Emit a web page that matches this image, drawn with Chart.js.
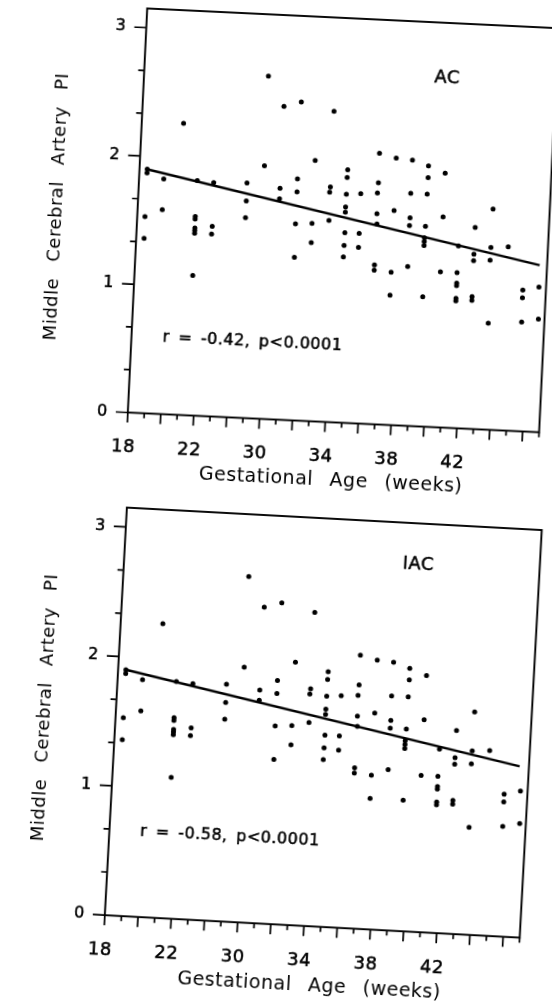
<!DOCTYPE html>
<html>
<head>
  <title>Middle Cerebral Artery PI - Gestational Age</title>
  <script src="https://cdn.jsdelivr.net/npm/chart.js"></script>
  <style>
    html, body {
      margin: 0;
      padding: 0;
      background: #fff;
      overflow: hidden;
    }
    body {
      position: relative;
      width: 552px;
      height: 1006px;
    }
    canvas {
      position: absolute;
    }
    /* the scan is slightly tilted, so each plot is turned round its origin */
    #chartAC {
      left: 31.6px;
      top: -28.5px;
      transform-origin: 95.8px 440.5px;
      transform: rotate(2.75deg);
    }
    #chartIAC {
      left: 18.7px;
      top: 470.8px;
      transform-origin: 85.8px 444.2px;
      transform: rotate(3.1deg);
    }
  </style>
</head>
<body>
  <canvas id="chartAC" width="545" height="512"></canvas>
  <canvas id="chartIAC" width="540" height="517"></canvas>

  <script>
    // x = position on the age axis (one step per tick mark), y = MCA PI
    const gaPos = [
      0.47, 0.47, 0.47, 0.48,
      1.50, 1.50,
      2.54,
      3.54, 3.52, 3.52, 3.53, 3.53, 3.53, 3.54,
      4.54, 4.58, 4.56,
      6.56, 6.57, 6.57,
      7.55, 7.57,
      8.58, 8.58, 8.58,
      9.62, 9.61, 9.62, 9.62, 9.65,
      10.63, 10.62, 10.63,
      11.63, 11.63, 11.60, 11.64,
      12.63, 12.62, 12.62, 12.61, 12.61, 12.64, 12.63, 12.62,
      13.49, 13.51, 13.51,
      14.51, 14.53, 14.50, 14.53, 14.56, 14.53, 14.53,
      15.54, 15.56, 15.56, 15.56,
      16.53, 16.52, 16.55, 16.54, 16.55,
      17.52, 17.53, 17.52, 17.51, 17.48, 17.48, 17.48, 17.55,
      18.55, 18.55, 18.55,
      19.57, 19.56, 19.57, 19.57, 19.57, 19.57,
      20.53, 20.53, 20.53, 20.54, 20.54,
      21.56, 21.54, 21.53, 21.60,
      22.59,
      23.60, 23.60, 23.62,
      24.57, 24.63
    ];
    const mcaPI = [
      1.90, 1.87, 1.53, 1.36,
      1.83, 1.59,
      2.27,
      1.83, 1.55, 1.53, 1.46, 1.44, 1.42, 1.09,
      1.82, 1.48, 1.42,
      1.83, 1.69, 1.56,
      2.67, 1.97,
      2.44, 1.80, 1.72,
      2.48, 1.88, 1.78, 1.53, 1.27,
      2.03, 1.54, 1.39,
      2.42, 1.83, 1.79, 1.57,
      1.97, 1.91, 1.78, 1.68, 1.64, 1.48, 1.38, 1.29,
      1.79, 1.48, 1.37,
      2.11, 1.88, 1.80, 1.64, 1.56, 1.24, 1.20,
      2.08, 1.67, 1.19, 1.01,
      2.07, 1.81, 1.62, 1.56, 1.24,
      2.03, 1.94, 1.81, 1.56, 1.47, 1.44, 1.41, 1.01,
      1.98, 1.64, 1.21,
      1.42, 1.21, 1.13, 1.11, 1.01, 0.99,
      1.57, 1.36, 1.31, 1.03, 1.00,
      1.72, 1.42, 1.32, 0.83,
      1.43,
      1.10, 1.04, 0.85,
      1.13, 0.88
    ];

    // regression lines, start and end
    const fitAC = { x: [0.42, 24.55], y: [1.90, 1.30] };
    const fitIAC = { x: [0.48, 24.44], y: [1.90, 1.32] };

    const xTickLabels = ['18', '', '', '', '22', '', '', '', '30', '', '', '', '34', '', '', '', '38', '', '', '', '42', '', '', '', '', ''];
    const yTickLabels = ['0', '1', '2', '3'];

    const groupNames = ['AC', 'IAC'];
    const rValues = ['-0.42', '-0.58'];
    const pValue = 'p<0.0001';

    const points = gaPos.map((x, i) => ({ x: x, y: mcaPI[i] }));

    const framePlugin = {
      id: 'frame',
      beforeDraw(chart) {
        chart.ctx.letterSpacing = '0.5px';
        chart.ctx.wordSpacing = '10px';
      },
      afterDraw(chart, args, opts) {
        const ctx = chart.ctx;
        const a = chart.chartArea;
        const x = chart.scales.x;
        const y = chart.scales.y;
        ctx.save();
        ctx.strokeStyle = '#000';
        ctx.lineWidth = 1.9;
        ctx.strokeRect(a.left, a.top, a.right - a.left, a.bottom - a.top);

        // tick marks: long on even steps / whole numbers
        ctx.lineWidth = 1.7;
        ctx.beginPath();
        for (let i = 0; i <= 25; i++) {
          const px = x.getPixelForValue(i);
          ctx.moveTo(px, a.bottom);
          ctx.lineTo(px, a.bottom + (i % 2 ? 5 : 10));
        }
        for (let k = 0; k <= 9; k++) {
          const py = y.getPixelForValue(k / 3);
          ctx.moveTo(a.left, py);
          ctx.lineTo(a.left - (k % 3 ? 6 : 12), py);
        }
        ctx.stroke();

        ctx.fillStyle = '#000';
        ctx.lineWidth = 0.5;
        ctx.textBaseline = 'middle';
        ctx.font = '18px "DejaVu Sans"';
        ctx.textAlign = 'center';
        const gx = x.getPixelForValue(opts.groupAt[0]);
        const gy = y.getPixelForValue(opts.groupAt[1]);
        ctx.fillText(opts.group, gx, gy);
        ctx.strokeText(opts.group, gx, gy);
        ctx.font = '16px "DejaVu Sans"';
        ctx.textAlign = 'left';
        ctx.wordSpacing = '3px';
        const stat = 'r = ' + opts.r + ', ' + pValue;
        const sx = x.getPixelForValue(opts.statAt[0]);
        const sy = y.getPixelForValue(opts.statAt[1]);
        ctx.fillText(stat, sx, sy);
        ctx.strokeText(stat, sx, sy);
        ctx.restore();
      }
    };

    function makeChart(id, fit, opts) {
      const ctx = document.getElementById(id).getContext('2d');
      return new Chart(ctx, {
        type: 'scatter',
        data: {
          datasets: [{
            data: points,
            pointRadius: 2.5,
            pointBackgroundColor: '#000',
            pointBorderWidth: 0
          }, {
            type: 'line',
            data: fit.x.map((v, i) => ({ x: v, y: fit.y[i] })),
            borderColor: '#000',
            borderWidth: 2.4,
            pointRadius: 0,
            fill: false
          }]
        },
        options: {
          responsive: false,
          animation: false,
          devicePixelRatio: 1,
          layout: { padding: opts.padding },
          plugins: {
            legend: { display: false },
            tooltip: { enabled: false },
            frame: opts.frame
          },
          scales: {
            x: {
              type: 'linear',
              min: 0,
              max: 25,
              afterFit(s) { s.height = opts.xHeight; },
              grid: { display: false, drawTicks: false },
              border: { display: false },
              ticks: {
                stepSize: 1,
                autoSkip: false,
                maxRotation: 0,
                padding: 24,
                labelOffset: -3,
                color: '#000',
                textStrokeColor: '#000',
                textStrokeWidth: 0.5,
                font: { family: 'DejaVu Sans', size: 18 },
                callback: (v) => xTickLabels[v] || ''
              },
              title: {
                display: true,
                text: 'Gestational Age (weeks)',
                color: '#000',
                font: { family: 'DejaVu Sans', size: 19 },
                padding: { top: 0, bottom: 0 }
              }
            },
            y: {
              min: 0,
              max: 3.15,
              afterFit(s) { s.width = opts.yWidth; },
              grid: { display: false, drawTicks: false },
              border: { display: false },
              ticks: {
                stepSize: 1,
                includeBounds: false,
                padding: 20,
                color: '#000',
                textStrokeColor: '#000',
                textStrokeWidth: 0.5,
                font: { family: 'DejaVu Sans', size: 16 },
                callback: (v) => yTickLabels[v] || ''
              },
              title: {
                display: true,
                text: 'Middle Cerebral Artery PI',
                color: '#000',
                font: { family: 'DejaVu Sans', size: 18 },
                padding: { top: 0, bottom: 0 }
              }
            }
          }
        },
        plugins: [framePlugin]
      });
    }

    window.onload = function() {
      makeChart('chartAC', fitAC, {
        padding: { left: 5, top: 36, right: 37.45, bottom: 1.5 },
        yWidth: 90.8,
        xHeight: 70,
        frame: { group: groupNames[0], groupAt: [18.4, 2.72], r: rValues[0], statAt: [1.9, 0.6] }
      });
      makeChart('chartIAC', fitIAC, {
        padding: { left: 5, top: 36, right: 38.7, bottom: 1.8 },
        yWidth: 80.8,
        xHeight: 71,
        frame: { group: groupNames[1], groupAt: [17.7, 2.83], r: rValues[1], statAt: [1.85, 0.66] }
      });
    };
  </script>
</body>
</html>
